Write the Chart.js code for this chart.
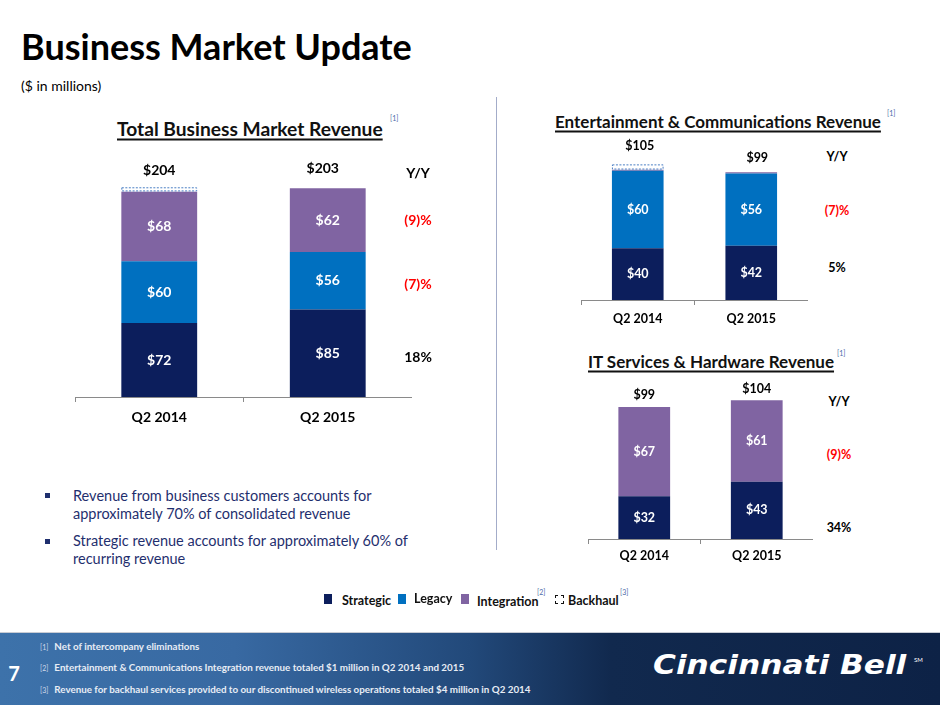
<!DOCTYPE html>
<html><head><meta charset="utf-8">
<script src="https://cdn.jsdelivr.net/npm/chart.js@4/dist/chart.umd.min.js"></script>
<style>
html,body{margin:0;padding:0;background:#fff;}
body{width:940px;height:705px;position:relative;overflow:hidden;font-family:Lato,"Open Sans",sans-serif;}
.a{position:absolute;white-space:nowrap;}
.c{position:absolute;white-space:nowrap;transform:translate(-50%,-50%);}
.l{position:absolute;white-space:nowrap;transform:translate(0,-50%);}
.ttl{font-weight:bold;text-decoration:underline;text-decoration-thickness:1.5px;text-underline-offset:3px;color:#111;}
.sup{font-size:7px;color:#4a6aa8;}
.yy{font-weight:bold;color:#000;}
.red{color:#ff0000;}
canvas{position:absolute;}
.sq{position:absolute;width:8px;height:10px;}
.ft{font-size:9.8px;font-weight:bold;color:#e8edf5;}
.ft .n{font-size:7px;font-weight:normal;margin-right:6px;color:#d0d8e8;}
</style></head>
<body>
<div class="l" style="left:21px;top:46px;font-size:36px;font-weight:bold;color:#000;">Business Market Update</div>
<div class="l" style="left:21px;top:85px;font-size:14px;color:#000;">($ in millions)</div>

<div class="a" style="left:496px;top:97px;width:1px;height:453px;background:#a3acc9;"></div>

<!-- chart 1 -->
<div class="l ttl" style="left:117px;top:128px;font-size:19.2px;">Total Business Market Revenue</div>
<div class="l sup" style="left:390px;top:118px;">[1]</div>
<canvas id="c1"></canvas>

<!-- chart 2 -->
<div class="l ttl" style="left:555px;top:121px;font-size:17px;">Entertainment &amp; Communications Revenue</div>
<div class="l sup" style="left:887px;top:113px;">[1]</div>
<canvas id="c2"></canvas>

<!-- chart 3 -->
<div class="l ttl" style="left:588px;top:361px;font-size:17px;">IT Services &amp; Hardware Revenue</div>
<div class="l sup" style="left:837px;top:353px;">[1]</div>
<canvas id="c3"></canvas>

<div id="yylabels"></div>

<!-- bullets -->
<div class="a" style="left:45px;top:493px;width:5px;height:5px;background:#1f2f6e;"></div>
<div class="a" style="left:73px;top:487px;font-size:14.5px;line-height:18.4px;color:#1f2f6e;">Revenue from business customers accounts for<br>approximately 70% of consolidated revenue</div>
<div class="a" style="left:45px;top:539px;width:5px;height:5px;background:#1f2f6e;"></div>
<div class="a" style="left:73px;top:532px;font-size:14.5px;line-height:18.4px;color:#1f2f6e;">Strategic revenue accounts for approximately 60% of<br>recurring revenue</div>

<!-- legend -->
<div id="legend"></div>

<!-- footer -->
<div class="a" style="left:0;top:632px;width:940px;height:1px;background:#c8ccd4;"></div>
<div class="a" style="left:0;top:633px;width:940px;height:72px;background:linear-gradient(to right,#3d72aa 0%,#3869a2 25%,#22497a 50%,#11294e 65%,#0d2246 100%);"></div>
<div class="c" style="left:14px;top:673px;font-size:20px;font-weight:bold;color:#fff;">7</div>
<div class="l ft" style="left:40px;top:646px;"><span class="n">[1]</span>Net of intercompany eliminations</div>
<div class="l ft" style="left:40px;top:667px;"><span class="n">[2]</span>Entertainment &amp; Communications Integration revenue totaled $1 million in Q2 2014 and 2015</div>
<div class="l ft" style="left:40px;top:689px;"><span class="n">[3]</span>Revenue for backhaul services provided to our discontinued wireless operations totaled $4 million in Q2 2014</div>
<div class="a" style="left:653px;top:648px;font-family:'DejaVu Sans',sans-serif;font-size:26px;line-height:34px;font-weight:bold;font-style:italic;color:#fff;transform:scaleX(1.2);transform-origin:0 0;">Cincinnati Bell</div>
<div class="l" style="left:914px;top:659px;font-size:6px;color:#fff;">SM</div>

<script>
// ---------- data ----------
const categories = ['Q2 2014', 'Q2 2015'];

const totalStrategic   = [72, 85];
const totalLegacy      = [60, 56];
const totalIntegration = [68, 62];
const totalBackhaul    = [4, 0];
const totalYoY         = ['(9)%', '(7)%', '18%'];

const ecStrategic   = [40, 42];
const ecLegacy      = [60, 56];
const ecIntegration = [1, 1];
const ecBackhaul    = [4, 0];
const ecYoY         = ['(7)%', '5%'];

const itStrategic   = [32, 43];
const itIntegration = [67, 61];
const itYoY         = ['(9)%', '34%'];

const legendItems = ['Strategic', 'Legacy', 'Integration', 'Backhaul'];

// ---------- styles ----------
const C_STRAT = '#0c1e5c';
const C_LEG = '#0070c0';
const C_INT = '#8064a2';
const FONT = 'Lato, "Open Sans", sans-serif';

const labelPlugin = {
  id: 'segLabels',
  afterDatasetsDraw(chart, args, opts) {
    const ctx = chart.ctx;
    ctx.save();
    chart.data.datasets.forEach((ds, di) => {
      const meta = chart.getDatasetMeta(di);
      meta.data.forEach((el, i) => {
        const v = ds.data[i];
        if (!v) return;
        const top = Math.min(el.y, el.base), bot = Math.max(el.y, el.base);
        if (ds.dashed) {
          ctx.fillStyle = '#fff';
          ctx.fillRect(el.x - el.width / 2, top, el.width, bot - top);
          ctx.setLineDash([2, 1.5]);
          ctx.strokeStyle = '#4a7fc4';
          ctx.lineWidth = 1;
          ctx.strokeRect(el.x - el.width / 2 + 0.5, top + 0.5, el.width - 1, bot - top - 1);
          ctx.setLineDash([]);
        }
        if (ds.showLabels) {
          ctx.fillStyle = '#fff';
          ctx.font = 'bold ' + opts.size + 'px ' + FONT;
          ctx.textAlign = 'center';
          ctx.textBaseline = 'middle';
          ctx.fillText('$' + v, el.x, (top + bot) / 2);
        }
      });
    });
    // totals
    const n = chart.data.labels.length;
    for (let i = 0; i < n; i++) {
      let sum = 0, topY = Infinity, x = 0;
      chart.data.datasets.forEach((ds, di) => {
        const el = chart.getDatasetMeta(di).data[i];
        sum += ds.data[i] || 0;
        if (ds.data[i]) topY = Math.min(topY, el.y);
        x = el.x;
      });
      ctx.fillStyle = '#000';
      ctx.font = 'bold ' + opts.totalSize + 'px ' + FONT;
      ctx.textAlign = 'center';
      ctx.textBaseline = 'middle';
      ctx.fillText('$' + sum, x + (opts.dx ? opts.dx[i] : 0), topY - opts.offset[i]);
    }
    ctx.restore();
  }
};

function makeChart(id, pos, padTop, datasets, yMax, tickSize, tickPad, labelOpts, barPct) {
  const cv = document.getElementById(id);
  cv.style.left = pos.left + 'px';
  cv.style.top = pos.top + 'px';
  cv.style.width = pos.width + 'px';
  cv.style.height = pos.height + 'px';
  cv.width = pos.width; cv.height = pos.height;
  return new Chart(cv, {
    type: 'bar',
    data: { labels: categories, datasets: datasets },
    options: {
      responsive: false,
      animation: false,
      devicePixelRatio: 1,
      layout: { padding: { top: padTop, left: 0, right: 0, bottom: 0 } },
      plugins: { legend: { display: false }, tooltip: { enabled: false }, segLabels: labelOpts },
      datasets: { bar: { categoryPercentage: 1, barPercentage: barPct, borderWidth: 0 } },
      scales: {
        x: {
          stacked: true,
          grid: { drawOnChartArea: false, drawTicks: true, tickLength: 5, color: '#8a8a8a', offset: true },
          border: { color: '#8a8a8a', width: 1 },
          ticks: { color: '#000', font: { family: FONT, size: tickSize, weight: 'bold' }, padding: tickPad },
          afterFit: (s) => { s.height = 30; }
        },
        y: { stacked: true, display: false, min: 0, max: yMax }
      }
    },
    plugins: [labelPlugin]
  });
}

// chart 1: axis 75..412, baseline 397
makeChart('c1', { left: 75, top: 140, width: 337, height: 287 }, 0, [
  { label: 'Strategic', data: totalStrategic, backgroundColor: C_STRAT, showLabels: true },
  { label: 'Legacy', data: totalLegacy, backgroundColor: C_LEG, showLabels: true },
  { label: 'Integration', data: totalIntegration, backgroundColor: C_INT, showLabels: true },
  { label: 'Backhaul', data: totalBackhaul, backgroundColor: 'rgba(0,0,0,0)', dashed: true }
], 250, 14, 7, { size: 14, totalSize: 14, offset: [17, 20], dx: [0, -5] }, 0.45);

// chart 2: axis 581..808, baseline 300
makeChart('c2', { left: 581, top: 125, width: 227, height: 205 }, 20, [
  { label: 'Strategic', data: ecStrategic, backgroundColor: C_STRAT, showLabels: true },
  { label: 'Legacy', data: ecLegacy, backgroundColor: C_LEG, showLabels: true },
  { label: 'Integration', data: ecIntegration, backgroundColor: C_INT },
  { label: 'Backhaul', data: ecBackhaul, backgroundColor: 'rgba(0,0,0,0)', dashed: true }
], 120, 12.5, 6, { size: 12.5, totalSize: 12.5, offset: [18, 14], dx: [2, 6] }, 0.455);

// chart 3: axis 588..813, baseline 539
makeChart('c3', { left: 588, top: 369, width: 225, height: 200 }, 10, [
  { label: 'Strategic', data: itStrategic, backgroundColor: C_STRAT, showLabels: true },
  { label: 'Integration', data: itIntegration, backgroundColor: C_INT, showLabels: true }
], 120, 12.5, 4, { size: 12.5, totalSize: 12.5, offset: [12, 11] }, 0.46);

// Y/Y columns
function yy(x, ys, head, vals, size) {
  const host = document.getElementById('yylabels');
  const mk = (t, y, red) => {
    const d = document.createElement('div');
    d.className = 'c yy' + (red ? ' red' : '');
    d.style.left = x + 'px'; d.style.top = y + 'px'; d.style.fontSize = size + 'px';
    d.textContent = t; host.appendChild(d);
  };
  mk(head, ys[0], false);
  vals.forEach((v, i) => mk(v, ys[i + 1], v.startsWith('(')));
}
yy(418, [172, 219, 283, 356], 'Y/Y', totalYoY, 14);
yy(837, [156, 210, 267], 'Y/Y', ecYoY, 12.5);
yy(839, [401, 454, 527], 'Y/Y', itYoY, 12.5);

// legend
(function () {
  const host = document.getElementById('legend');
  const sw = [
    { x: 324, c: C_STRAT, tx: 342, ty: 600, sup: null },
    { x: 398, c: C_LEG, tx: 414, ty: 598, sup: null },
    { x: 461, c: C_INT, tx: 477, ty: 601, sup: '[2]', sx: 537 },
    { x: 555, c: null, tx: 568, ty: 600, sup: '[3]', sx: 620 }
  ];
  legendItems.forEach((name, i) => {
    const s = sw[i];
    const b = document.createElement('div');
    b.className = 'sq';
    b.style.left = s.x + 'px'; b.style.top = '594px';
    if (s.c) b.style.background = s.c;
    else { b.style.border = '1.5px dashed #111'; b.style.width = '7px'; b.style.height = '7px'; b.style.top = '595px'; }
    host.appendChild(b);
    const t = document.createElement('div');
    t.className = 'l';
    t.style.left = s.tx + 'px'; t.style.top = s.ty + 'px';
    t.style.fontSize = '12.5px'; t.style.fontWeight = 'bold'; t.style.color = '#111';
    t.textContent = name; host.appendChild(t);
    if (s.sup) {
      const u = document.createElement('div');
      u.className = 'l sup';
      u.style.left = s.sx + 'px'; u.style.top = '592px';
      u.textContent = s.sup; host.appendChild(u);
    }
  });
})();
</script>
</body></html>
